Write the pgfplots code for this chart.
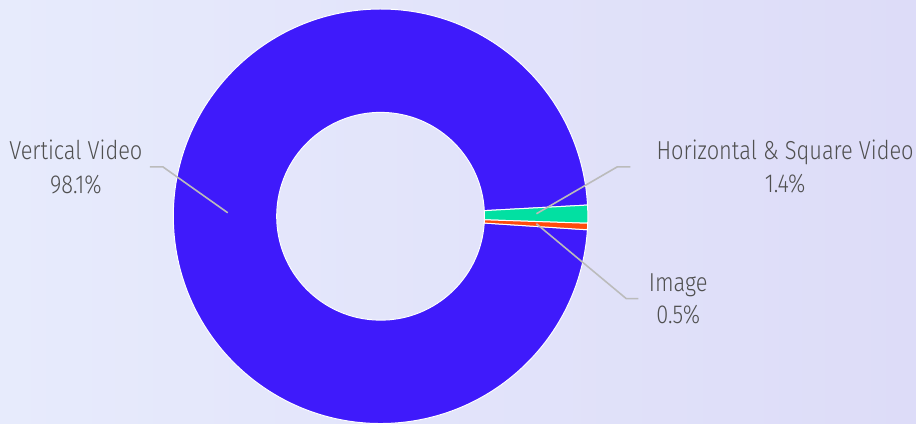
\documentclass[border=0pt]{standalone}
\usepackage{pgfplots}
\pgfplotsset{compat=1.18}
\usepackage{fontspec}
\setmainfont{Fira Sans Light}[FakeStretch=0.84]
\definecolor{cBlue}{HTML}{3F1AFB}
\definecolor{cGreen}{HTML}{02E0A2}
\definecolor{cRed}{HTML}{FF4B0B}
\definecolor{bgA}{HTML}{E7EBFC}
\definecolor{bgB}{HTML}{DDDCF8}
\definecolor{txt}{HTML}{505050}
\definecolor{lead}{HTML}{BBBBBB}
% data (percent)
\def\vVert{98.1}
\def\vHoriz{1.4}
\def\vImage{0.5}
\def\startAngle{3.1} % upper edge of the green slice
\def\cx{381}\def\cy{216.5}
\def\Rout{207.5}\def\Rin{104}
\newcommand\sector[3]{% color, from angle, to angle
  \fill[#1, draw=white, line width=1pt] (axis cs:\cx,\cy) ++(#2:\Rout pt)
    arc[start angle=#2, end angle=#3, radius=\Rout pt]
    -- ++(#3:-\Rout pt+\Rin pt)
    arc[start angle=#3, end angle=#2, radius=\Rin pt] -- cycle;}
\begin{document}
\begin{tikzpicture}
\begin{axis}[
  width=917pt, height=424pt, scale only axis,
  xmin=0, xmax=917, ymin=0, ymax=424, y dir=reverse,
  axis lines=none, ticks=none, clip=false]
\shade[left color=bgA, right color=bgB] (axis cs:0,0) rectangle (axis cs:917,424);
\pgfmathsetmacro\aG{\startAngle-3.6*\vHoriz}
\pgfmathsetmacro\aR{\aG-3.6*\vImage}
\pgfmathsetmacro\aV{\startAngle+3.6*\vVert}
\sector{cBlue}{\startAngle}{\aV}
\sector{cGreen}{\aG}{\startAngle}
\sector{cRed}{\aR}{\aG}
\addplot[lead, line width=1.6pt, no marks] coordinates {(228,213) (163,167) (150,167)};
\addplot[lead, line width=1.6pt, no marks] coordinates {(537,214) (618,167) (631,167)};
\addplot[lead, line width=1.6pt, no marks] coordinates {(537,224) (627,299) (639,299)};
\node[txt, font=\fontsize{26}{30}\selectfont, anchor=base] at (axis cs:76,160) {Vertical Video};
\node[txt, font=\fontsize{26}{30}\selectfont, anchor=base] at (axis cs:76,194) {98.1\%};
\node[txt, font=\fontsize{26}{30}\selectfont, anchor=base] at (axis cs:786,160) {Horizontal \& Square Video};
\node[txt, font=\fontsize{26}{30}\selectfont, anchor=base] at (axis cs:786,193) {1.4\%};
\node[txt, font=\fontsize{26}{30}\selectfont, anchor=base] at (axis cs:679,292) {Image};
\node[txt, font=\fontsize{26}{30}\selectfont, anchor=base] at (axis cs:679,324) {0.5\%};
\end{axis}
\end{tikzpicture}
\end{document}
